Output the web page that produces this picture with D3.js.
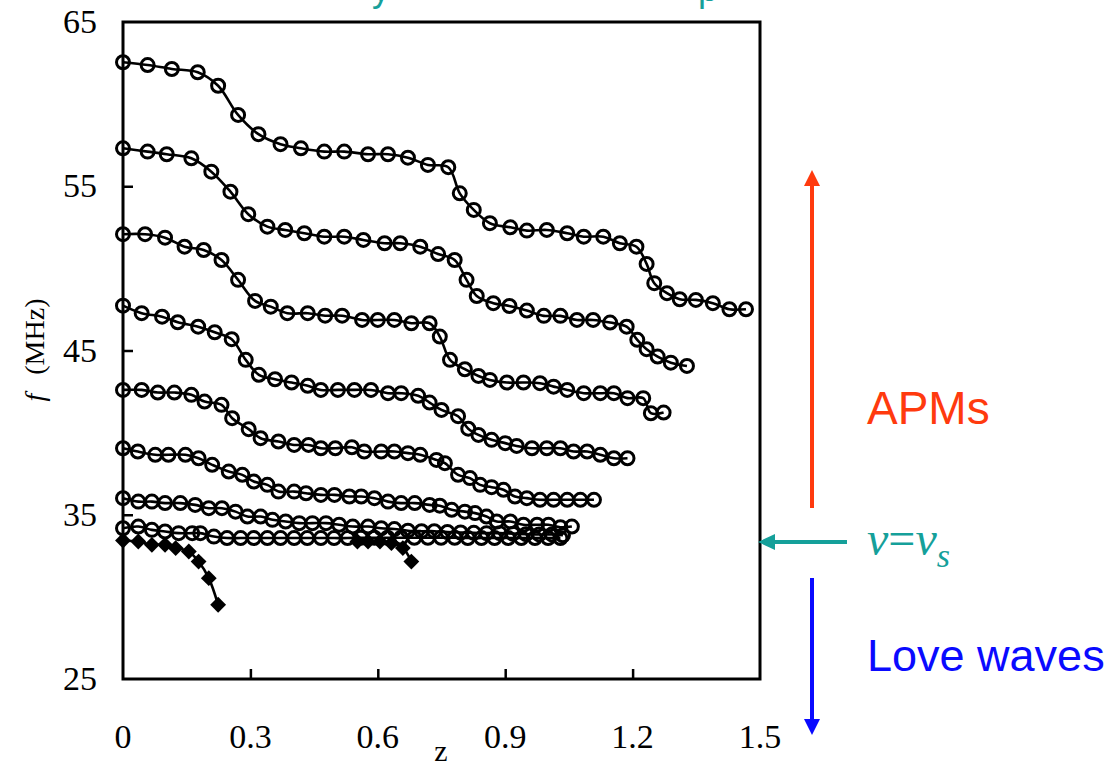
<!DOCTYPE html>
<html>
<head>
<meta charset="utf-8">
<script src="https://cdn.jsdelivr.net/npm/d3@7"></script>
<style>
  html, body { margin: 0; padding: 0; background: #fff; }
</style>
</head>
<body>
<div id="chart"></div>
<script>
// axis ticks
const xTicks = [0, 0.3, 0.6, 0.9, 1.2, 1.5];
const yTicks = [25, 35, 45, 55, 65];

// open-circle branches (z, f in MHz)
const seriesA = [[0,62.55],[0.058,62.38],[0.115,62.14],[0.176,61.94],[0.224,61.12],[0.271,59.34],[0.319,58.17],[0.371,57.56],[0.419,57.31],[0.474,57.11],[0.521,57.11],[0.577,56.95],[0.624,56.95],[0.671,56.74],[0.718,56.3],[0.766,56.16],[0.793,54.57],[0.826,53.56],[0.864,52.75],[0.912,52.5],[0.951,52.3],[0.998,52.34],[1.046,52.14],[1.085,51.93],[1.131,51.93],[1.17,51.53],[1.209,51.32],[1.233,50.27],[1.251,49.1],[1.281,48.49],[1.311,48.12],[1.349,48.08],[1.389,47.88],[1.428,47.51],[1.467,47.51]];
const seriesB = [[0,57.31],[0.058,57.11],[0.103,56.95],[0.161,56.7],[0.208,55.89],[0.253,54.67],[0.295,53.3],[0.34,52.54],[0.382,52.34],[0.427,52.14],[0.474,51.93],[0.521,51.93],[0.566,51.73],[0.616,51.53],[0.653,51.53],[0.7,51.32],[0.742,50.87],[0.781,50.51],[0.809,49.3],[0.833,48.32],[0.872,47.88],[0.91,47.71],[0.951,47.43],[0.991,47.11],[1.03,47.11],[1.069,46.86],[1.107,46.86],[1.147,46.7],[1.186,46.45],[1.211,45.65],[1.233,45.08],[1.259,44.63],[1.29,44.26],[1.328,44.06]];
const seriesC = [[0,52.08],[0.052,52.08],[0.099,51.87],[0.145,51.32],[0.19,51.12],[0.232,50.51],[0.271,49.3],[0.311,48.02],[0.348,47.67],[0.387,47.27],[0.435,47.27],[0.476,47.12],[0.516,47.12],[0.563,46.86],[0.6,46.86],[0.639,46.86],[0.679,46.66],[0.722,46.66],[0.746,45.85],[0.77,44.43],[0.805,43.86],[0.837,43.45],[0.864,43.21],[0.904,43.05],[0.943,43.05],[0.982,43.01],[1.014,42.8],[1.046,42.6],[1.085,42.4],[1.124,42.4],[1.156,42.4],[1.188,42.1],[1.225,42.1],[1.243,41.18],[1.273,41.22]];
const seriesD = [[0,47.73],[0.044,47.27],[0.092,47.06],[0.129,46.72],[0.177,46.45],[0.216,46.11],[0.256,45.69],[0.289,44.43],[0.32,43.52],[0.358,43.25],[0.397,43.05],[0.435,42.85],[0.466,42.6],[0.506,42.6],[0.545,42.6],[0.584,42.6],[0.624,42.4],[0.655,42.4],[0.695,42.24],[0.722,41.83],[0.75,41.38],[0.789,41.0],[0.813,40.24],[0.837,39.86],[0.868,39.56],[0.9,39.36],[0.927,39.19],[0.963,39.05],[0.998,39.05],[1.03,39.05],[1.061,38.85],[1.093,38.85],[1.124,38.65],[1.156,38.44],[1.188,38.44]];
const seriesE = [[0,42.6],[0.044,42.6],[0.082,42.44],[0.121,42.44],[0.161,42.3],[0.192,41.89],[0.232,41.69],[0.257,40.88],[0.296,40.21],[0.324,39.66],[0.366,39.46],[0.403,39.25],[0.437,39.25],[0.466,39.05],[0.5,39.05],[0.539,39.11],[0.568,38.85],[0.608,38.85],[0.639,38.85],[0.671,38.75],[0.7,38.65],[0.738,38.34],[0.758,38.14],[0.789,37.43],[0.817,37.23],[0.841,36.82],[0.868,36.68],[0.896,36.52],[0.923,36.11],[0.951,36.01],[0.982,35.91],[1.014,35.91],[1.046,35.91],[1.077,35.91],[1.109,35.91]];
const seriesF = [[0,39.05],[0.035,38.85],[0.076,38.65],[0.107,38.65],[0.147,38.65],[0.178,38.44],[0.21,38.04],[0.249,37.63],[0.281,37.43],[0.308,37.02],[0.34,36.82],[0.366,36.41],[0.403,36.41],[0.431,36.31],[0.466,36.21],[0.498,36.21],[0.533,36.11],[0.561,36.11],[0.592,36.01],[0.624,35.8],[0.655,35.71],[0.687,35.71],[0.722,35.6],[0.746,35.55],[0.774,35.3],[0.805,35.19],[0.829,35.1],[0.856,34.89],[0.88,34.59],[0.912,34.59],[0.943,34.39],[0.975,34.39],[1.002,34.39],[1.03,34.24],[1.057,34.28]];
const seriesG = [[0,36.01],[0.036,35.8],[0.068,35.8],[0.099,35.71],[0.135,35.71],[0.17,35.6],[0.202,35.4],[0.233,35.4],[0.265,35.19],[0.293,34.89],[0.324,34.89],[0.352,34.69],[0.383,34.59],[0.415,34.49],[0.446,34.49],[0.478,34.49],[0.509,34.39],[0.541,34.28],[0.577,34.28],[0.608,34.18],[0.639,34.13],[0.671,34.03],[0.703,34.0],[0.733,34.0],[0.764,33.95],[0.795,33.92],[0.826,33.9],[0.856,33.88],[0.887,33.88],[0.918,33.85],[0.949,33.82],[0.98,33.8],[1.01,33.8],[1.036,33.75]];
const seriesH = [[0,34.18],[0.036,34.28],[0.068,34.08],[0.099,33.98],[0.131,33.88],[0.163,33.88],[0.182,33.88],[0.214,33.67],[0.245,33.58],[0.277,33.58],[0.308,33.58],[0.34,33.58],[0.371,33.58],[0.403,33.58],[0.434,33.58],[0.466,33.58],[0.497,33.58],[0.529,33.58],[0.56,33.6],[0.592,33.6],[0.623,33.6],[0.655,33.6],[0.686,33.6],[0.718,33.6],[0.749,33.6],[0.781,33.6],[0.812,33.58],[0.844,33.58],[0.875,33.58],[0.907,33.58],[0.938,33.58],[0.97,33.58],[1.001,33.58],[1.03,33.58]];
const circleSeries = [seriesA, seriesB, seriesC, seriesD, seriesE, seriesF, seriesG, seriesH];

// Love-wave branches (filled diamonds)
const loveA = [[0,33.43],[0.036,33.37],[0.068,33.17],[0.099,33.17],[0.124,32.97],[0.155,32.76],[0.178,32.15],[0.202,31.14],[0.224,29.52]];
const loveB = [[0.552,33.37],[0.577,33.37],[0.605,33.37],[0.632,33.27],[0.659,32.97],[0.679,32.15]];
const diamondSeries = [loveA, loveB];

const width = 1117, height = 767;
const margin = {left: 123, right: 360, top: 22, bottom: 88};

const svg = d3.select("#chart").append("svg")
  .attr("width", width)
  .attr("height", height)
  .style("font-family", "'Liberation Serif', 'Times New Roman', serif");

const x = d3.scaleLinear().domain([0, 1.5]).range([margin.left, width - margin.right + 3]);
const y = d3.scaleLinear().domain([25, 65]).range([height - margin.bottom, margin.top]);

// cut-off teal title at the very top (only descenders visible)
svg.append("text").attr("x", 372).attr("y", 1).attr("fill", "#17a09a")
  .style("font-family", "'Liberation Sans', Arial, sans-serif").style("font-size", "36px").text("y");
svg.append("text").attr("x", 698).attr("y", 1).attr("fill", "#17a09a")
  .style("font-family", "'Liberation Sans', Arial, sans-serif").style("font-size", "36px").text("p");

// frame
svg.append("rect")
  .attr("x", x(0)).attr("y", y(65))
  .attr("width", x(1.5) - x(0)).attr("height", y(25) - y(65))
  .attr("fill", "none").attr("stroke", "#000").attr("stroke-width", 3);

// inward ticks
const xAxis = d3.axisTop(x).tickValues(xTicks.slice(1, -1)).tickSize(10).tickFormat("");
svg.append("g").attr("transform", `translate(0,${y(25)})`).call(xAxis)
  .call(g => g.select(".domain").remove())
  .selectAll("line").attr("stroke-width", 2.5);
const yAxis = d3.axisRight(y).tickValues(yTicks.slice(1, -1)).tickSize(10).tickFormat("");
svg.append("g").attr("transform", `translate(${x(0)},0)`).call(yAxis)
  .call(g => g.select(".domain").remove())
  .selectAll("line").attr("stroke-width", 2.5);

// tick labels
svg.append("g").selectAll("text").data(xTicks).join("text")
  .attr("x", d => x(d)).attr("y", 748)
  .attr("text-anchor", "middle").style("font-size", "34px")
  .text(d => d3.format("")(d));
svg.append("g").selectAll("text").data(yTicks).join("text")
  .attr("x", 97).attr("y", d => y(d) + 11)
  .attr("text-anchor", "end").style("font-size", "34px")
  .text(d => d);

// axis titles
svg.append("text").attr("x", 441).attr("y", 761).attr("text-anchor", "middle")
  .style("font-size", "30px").text("z");
const yt = svg.append("text")
  .attr("transform", "translate(44,350) rotate(-90)")
  .attr("text-anchor", "middle").style("font-size", "28px");
yt.append("tspan").style("font-style", "italic").text("f");
yt.append("tspan").attr("dx", 12).text(" (MHz)");

// curves
const line = d3.line().x(d => x(d[0])).y(d => y(d[1])).curve(d3.curveCatmullRom.alpha(0.5));

const plot = svg.append("g");
plot.selectAll("path.branch").data(circleSeries.concat(diamondSeries)).join("path")
  .attr("class", "branch")
  .attr("d", line)
  .attr("fill", "none").attr("stroke", "#000").attr("stroke-width", 2.6);

circleSeries.forEach(s => {
  plot.append("g").selectAll("circle").data(s).join("circle")
    .attr("cx", d => x(d[0])).attr("cy", d => y(d[1])).attr("r", 6.5)
    .attr("fill", "none").attr("stroke", "#000").attr("stroke-width", 3);
});

const diamond = d3.symbol().type(d3.symbolDiamond2).size(160);
diamondSeries.forEach(s => {
  plot.append("g").selectAll("path").data(s).join("path")
    .attr("transform", d => `translate(${x(d[0])},${y(d[1])})`)
    .attr("d", diamond).attr("fill", "#000");
});

// annotations on the right
const ax = 812;
const red = "#ff3a0e", teal = "#15a09a", blue = "#0a0aff";
function vArrow(x0, y0, y1, color) {
  const dir = Math.sign(y1 - y0);
  svg.append("line").attr("x1", x0).attr("x2", x0).attr("y1", y0).attr("y2", y1 - dir * 12)
    .attr("stroke", color).attr("stroke-width", 4);
  svg.append("path")
    .attr("d", `M${x0},${y1} L${x0 - 8},${y1 - dir * 16} L${x0 + 8},${y1 - dir * 16} Z`)
    .attr("fill", color);
}
vArrow(ax, 508, 170, red);
vArrow(ax, 578, 735, blue);

const ya = 542;
svg.append("line").attr("x1", 847).attr("x2", 770).attr("y1", ya).attr("y2", ya)
  .attr("stroke", teal).attr("stroke-width", 4);
svg.append("path").attr("d", `M758,${ya} L775,${ya - 8} L775,${ya + 8} Z`).attr("fill", teal);

svg.append("text").attr("x", 867).attr("y", 424).attr("fill", red)
  .style("font-family", "'Liberation Sans', Arial, sans-serif").style("font-size", "46px").text("APMs");
svg.append("text").attr("x", 867).attr("y", 671).attr("fill", blue)
  .style("font-family", "'Liberation Sans', Arial, sans-serif").style("font-size", "45px").text("Love waves");

const vt = svg.append("text").attr("x", 867).attr("y", 555).attr("fill", teal)
  .style("font-size", "48px").style("font-style", "italic");
vt.append("tspan").text("v");
vt.append("tspan").style("font-style", "normal").text("=");
vt.append("tspan").text("v");
vt.append("tspan").attr("dy", 12).style("font-size", "34px").text("s");
</script>
</body>
</html>
